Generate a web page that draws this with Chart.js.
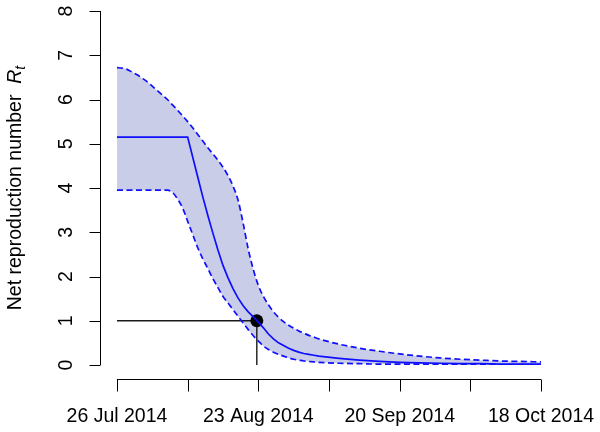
<!DOCTYPE html>
<html>
<head>
<meta charset="utf-8">
<script src="https://cdn.jsdelivr.net/npm/chart.js@4"></script>
<style>
  html, body { margin: 0; padding: 0; background: #fff; }
  #wrap { width: 600px; height: 432px; position: relative; }
</style>
</head>
<body>
<div id="wrap"><canvas id="rtchart"></canvas></div>
<script>
// days since 26 Jul 2014
const days = [0, 1, 2, 3, 4, 5, 6, 7, 8, 9, 10, 11, 12, 13, 14, 15, 16, 17, 18, 19, 20,
  21, 22, 23, 24, 25, 26, 27, 28, 29, 30, 31, 32, 33, 34, 35, 36, 37, 38, 39, 40,
  44, 48, 52, 56, 60, 64, 68, 72, 76, 80, 84];

const rtMean = [5.15, 5.15, 5.15, 5.15, 5.15, 5.15, 5.15, 5.15, 5.15, 5.15, 5.15,
  5.15, 5.15, 5.15, 5.15, 4.7, 4.25, 3.8, 3.38, 2.98, 2.6,
  2.25, 1.97, 1.72, 1.51, 1.34, 1.2, 1.09, 0.97, 0.84, 0.7, 0.59, 0.5, 0.44, 0.38,
  0.33, 0.29, 0.26, 0.24, 0.22, 0.2,
  0.15, 0.11, 0.08, 0.06, 0.05, 0.04, 0.03, 0.03, 0.02, 0.02, 0.02];

const rtUpper = [6.72, 6.71, 6.68, 6.62, 6.56, 6.48, 6.4, 6.3, 6.2, 6.1, 6.0,
  5.88, 5.76, 5.63, 5.5, 5.36, 5.21, 5.06, 4.91, 4.77, 4.63,
  4.47, 4.28, 4.04, 3.72, 3.2, 2.62, 2.16, 1.8, 1.55, 1.36, 1.2, 1.08, 0.98, 0.9,
  0.83, 0.77, 0.72, 0.67, 0.63, 0.59,
  0.47, 0.38, 0.31, 0.25, 0.2, 0.16, 0.13, 0.11, 0.09, 0.08, 0.07];

const rtLower = [3.95, 3.95, 3.95, 3.95, 3.95, 3.95, 3.95, 3.95, 3.95, 3.95, 3.95,
  3.9, 3.75, 3.55, 3.25, 2.95, 2.65, 2.4, 2.18, 1.95, 1.75,
  1.55, 1.4, 1.25, 1.1, 0.95, 0.8, 0.66, 0.54, 0.43, 0.35, 0.29, 0.24, 0.2, 0.16,
  0.13, 0.11, 0.09, 0.08, 0.07, 0.06,
  0.04, 0.03, 0.02, 0.02, 0.02, 0.01, 0.01, 0.01, 0.01, 0.01, 0.01];

// day when Rt drops below 1
const crossDay = 27.7;
const crossValue = 1;

const xTicks = [0, 14, 28, 42, 56, 70, 84];
const xTickLabels = ["26 Jul 2014", "", "23 Aug 2014", "", "20 Sep 2014", "", "18 Oct 2014"];
const yTicks = [0, 1, 2, 3, 4, 5, 6, 7, 8];

const blue = "rgb(15,15,255)";
const band = "rgb(202,205,232)";
const font = "'Liberation Sans', Arial, Helvetica, sans-serif";

const pts = (vals) => days.map((d, i) => ({ x: d, y: vals[i] }));

// R-style detached axes + y title
const rAxes = {
  id: "rAxes",
  afterDraw(chart) {
    const c = chart.ctx;
    const xs = chart.scales.x;
    const ys = chart.scales.y;
    c.save();
    c.strokeStyle = "#000";
    c.fillStyle = "#000";
    c.lineWidth = 1;

    // y axis
    const ax = chart.chartArea.left + 0.5;
    c.beginPath();
    c.moveTo(ax, ys.getPixelForValue(0));
    c.lineTo(ax, ys.getPixelForValue(8));
    yTicks.forEach((v) => {
      const py = Math.round(ys.getPixelForValue(v)) + 0.5;
      c.moveTo(ax, py);
      c.lineTo(ax - 11, py);
    });
    c.stroke();
    c.font = "19.5px " + font;
    c.textAlign = "center";
    c.textBaseline = "alphabetic";
    yTicks.forEach((v) => {
      c.save();
      c.translate(72, ys.getPixelForValue(v));
      c.rotate(-Math.PI / 2);
      c.fillText(String(v), 0, 0);
      c.restore();
    });

    // x axis
    const ay = 379.5;
    c.beginPath();
    c.moveTo(xs.getPixelForValue(xTicks[0]), ay);
    c.lineTo(xs.getPixelForValue(xTicks[xTicks.length - 1]), ay);
    xTicks.forEach((v) => {
      const px = Math.round(xs.getPixelForValue(v)) + 0.5;
      c.moveTo(px, ay);
      c.lineTo(px, ay + 12);
    });
    c.stroke();
    xTicks.forEach((v, i) => {
      if (xTickLabels[i]) c.fillText(xTickLabels[i], xs.getPixelForValue(v), 422);
    });

    // y title: Net reproduction number  R_t
    const t1 = "Net reproduction number  ";
    c.font = "19.5px " + font;
    const w1 = c.measureText(t1).width;
    c.font = "italic 19.5px " + font;
    const w2 = c.measureText("R").width;
    c.font = "italic 14px " + font;
    const w3 = c.measureText("t").width;
    const total = w1 + w2 + w3;
    c.save();
    c.translate(21, (ys.getPixelForValue(0) + ys.getPixelForValue(8)) / 2);
    c.rotate(-Math.PI / 2);
    c.textAlign = "left";
    let x0 = -total / 2;
    c.font = "19.5px " + font;
    c.fillText(t1, x0, 0);
    x0 += w1;
    c.font = "italic 19.5px " + font;
    c.fillText("R", x0, 0);
    x0 += w2;
    c.font = "italic 14px " + font;
    c.fillText("t", x0, 4);
    c.restore();
    c.restore();
  },
};

new Chart(document.getElementById("rtchart").getContext("2d"), {
  type: "line",
  data: {
    datasets: [
      {
        label: "upper",
        data: pts(rtUpper),
        borderColor: blue,
        borderWidth: 1.7,
        borderDash: [6, 3.5],
        backgroundColor: band,
        fill: { target: 2 },
        pointRadius: 0,
        cubicInterpolationMode: "monotone",
      },
      {
        label: "mean",
        data: pts(rtMean),
        borderColor: blue,
        borderWidth: 1.7,
        fill: false,
        pointRadius: 0,
        tension: 0,
      },
      {
        label: "lower",
        data: pts(rtLower),
        borderColor: blue,
        borderWidth: 1.7,
        borderDash: [6, 3.5],
        fill: false,
        pointRadius: 0,
        cubicInterpolationMode: "monotone",
      },
      {
        label: "threshold",
        data: [
          { x: 0, y: crossValue },
          { x: crossDay, y: crossValue },
          { x: crossDay, y: 0 },
        ],
        borderColor: "#1a1a1a",
        borderWidth: 1.4,
        fill: false,
        pointRadius: [0, 6.5, 0],
        pointBackgroundColor: "#000",
        pointBorderWidth: 0,
        tension: 0,
      },
    ],
  },
  options: {
    responsive: true,
    maintainAspectRatio: false,
    animation: false,
    layout: { padding: { left: 100, right: 42, top: 11, bottom: 67 } },
    scales: {
      x: { type: "linear", min: -3.36, max: 87.36, display: false },
      y: { type: "linear", min: 0, max: 8, display: false },
    },
    plugins: {
      legend: false, // no legend in the original
      tooltip: { enabled: false },
      filler: { drawTime: "beforeDatasetsDraw" },
    },
  },
  plugins: [rAxes],
});
</script>
</body>
</html>
